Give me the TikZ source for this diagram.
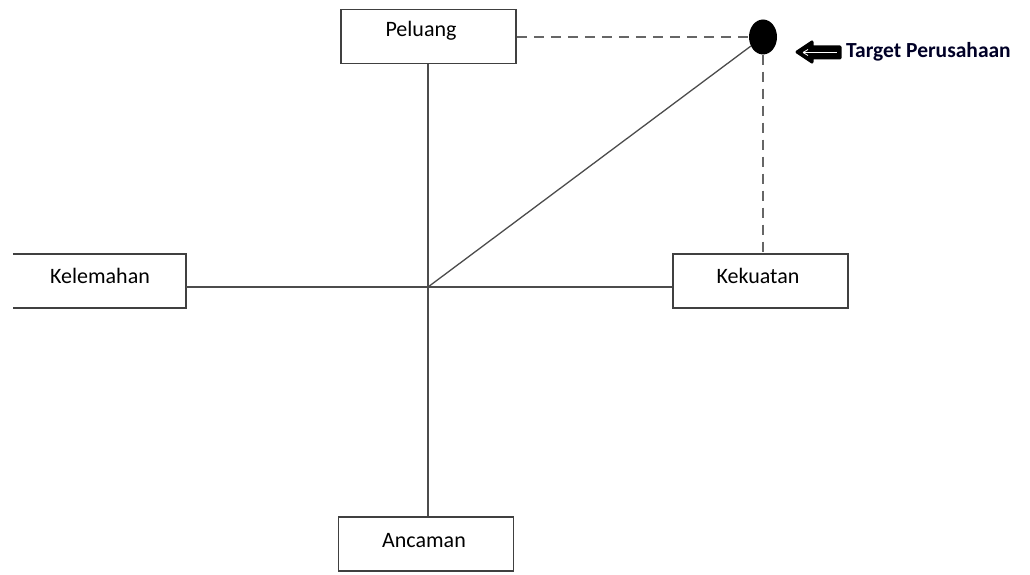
\documentclass[tikz,border=0pt]{standalone}
\usepackage{fontspec}
\setmainfont{Carlito}
\usetikzlibrary{shapes.geometric}
\begin{document}
\begin{tikzpicture}[x=1pt,y=-1pt,
  boxnode/.style={draw=black!75,line width=1.6pt,minimum width=175pt,minimum height=54pt,inner sep=0pt},
  lbl/.style={font=\fontsize{22}{24}\selectfont,text=black},
  axis/.style={draw=black!70,line width=1.3pt},
  dashline/.style={draw=black!60,line width=1.5pt,dash pattern=on 10pt off 7pt}]
\useasboundingbox (0,0) rectangle (1030,575);
\node[boxnode] (pel) at (428.5,36.5) {};
\node[lbl] (peltxt) at (421,31) {Peluang};
\node[boxnode] (kek) at (760.5,281) {};
\node[lbl] (kektxt) at (758,276) {Kekuatan};
\node[boxnode] (anc) at (426,544) {};
\node[lbl] (anctxt) at (424,541) {Ancaman};
\node[minimum width=173pt,minimum height=54pt,inner sep=0pt] (kel) at (99.5,281) {};
\draw[draw=black!75,line width=1.6pt] (kel.north west) -- (kel.north east) -- (kel.south east) -- (kel.south west);
\node[lbl] (keltxt) at (100,276) {Kelemahan};
\coordinate (c) at (428,287);
\node[ellipse,fill=black,minimum width=28pt,minimum height=35pt,inner sep=0pt] (tgt) at (763,37) {};
\draw[axis] (pel.south -| c) -- (anc.north -| c);
\draw[axis] (kel.east |- c) -- (kek.west |- c);
\draw[axis] (c) -- (tgt);
\draw[dashline] (pel.east |- tgt) -- (tgt.west);
\draw[dashline] (tgt.south) -- (tgt.south |- kek.north);
% arrow
\coordinate (atip) at (797,52);
\filldraw[black,line width=3pt,line join=round] (atip) -- (812,42) -- (812,47) -- (840,47) -- (840,58) -- (812,58) -- (812,62) -- cycle;
\draw[white,line width=0.8pt] (803,52.5) -- (837,52.5);
\draw[white,line width=0.8pt] (803,52.5) -- (808,49.5);
\draw[white,line width=0.8pt] (803,52.5) -- (808,55.5);
\node[font=\bfseries\fontsize{21.5}{24}\selectfont,text=black!85!blue,anchor=west,inner sep=0pt] (tlabel) at (846,52) {Target Perusahaan};
\end{tikzpicture}
\end{document}
